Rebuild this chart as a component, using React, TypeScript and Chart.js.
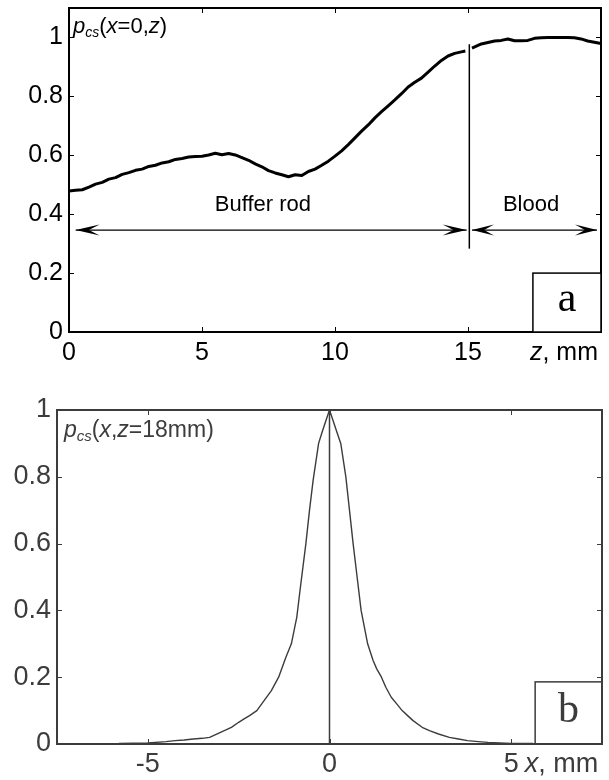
import React, { useEffect, useRef } from "react";
import { Chart, registerables } from "chart.js";
Chart.register(...registerables);

const FONT = "'Liberation Sans', Arial, Helvetica, sans-serif";
const SERIF = "'Liberation Serif', 'Times New Roman', serif";

// ---- Panel a: p_cs(x=0, z) ----
const zValues = [
  0, 0.25, 0.5, 0.75, 1.0, 1.25, 1.5, 1.75, 2.0, 2.25, 2.5, 2.75, 3.0, 3.25, 3.5, 3.75,
  4.0, 4.25, 4.5, 4.75, 5.0, 5.25, 5.5, 5.75, 6.0, 6.25, 6.5, 6.75, 7.0, 7.25, 7.5, 7.75,
  8.0, 8.25, 8.5, 8.75, 9.0, 9.25, 9.5, 9.75, 10.0, 10.25, 10.5, 10.75, 11.0, 11.25, 11.5,
  11.75, 12.0, 12.25, 12.5, 12.75, 13.0, 13.25, 13.5, 13.75, 14.0, 14.25, 14.5, 14.75, 14.9,
  15.0, 15.15, 15.5, 15.75, 16.0, 16.25, 16.5, 16.75, 17.0, 17.25, 17.5, 17.75, 18.0, 18.25,
  18.5, 18.75, 19.0, 19.25, 19.5, 19.75, 20.0,
];
const pcsAxial: (number | null)[] = [
  0.479, 0.481, 0.483, 0.492, 0.502, 0.508, 0.519, 0.524, 0.535, 0.541, 0.549, 0.553, 0.562, 0.566, 0.574, 0.578,
  0.586, 0.589, 0.594, 0.596, 0.597, 0.601, 0.607, 0.602, 0.606, 0.601, 0.592, 0.583, 0.571, 0.561, 0.548, 0.540,
  0.534, 0.527, 0.534, 0.531, 0.545, 0.553, 0.566, 0.580, 0.597, 0.615, 0.636, 0.659, 0.682, 0.703, 0.727,
  0.748, 0.768, 0.788, 0.809, 0.832, 0.848, 0.862, 0.882, 0.903, 0.922, 0.937, 0.946, 0.951, 0.954,
  null, 0.964, 0.978, 0.983, 0.988, 0.990, 0.995, 0.989, 0.989, 0.990, 0.997, 0.999, 1.0, 1.0,
  1.0, 1.0, 0.999, 0.995, 0.988, 0.984, 0.979,
];
const aXTicks = [0, 5, 10, 15];
const aYTicks = [0, 0.2, 0.4, 0.6, 0.8, 1];

// ---- Panel b: p_cs(x, z=18mm) ----
const xValues = [
  -5.8, -5, -4.5, -4.25, -4, -3.75, -3.5, -3.3, -3, -2.85, -2.7, -2.5, -2.35, -2.2, -2, -1.9, -1.8,
  -1.7, -1.6, -1.5, -1.4, -1.3, -1.2, -1.05, -0.9, -0.8, -0.65, -0.55, -0.45, -0.3, -0.2, -0.1, 0,
  0.1, 0.2, 0.31, 0.45, 0.55, 0.65, 0.76, 0.87, 1.05, 1.2, 1.3, 1.43, 1.55, 1.7, 1.85, 2.0, 2.15,
  2.3, 2.55, 2.75, 3.0, 3.3, 3.55, 3.8, 4.1, 4.36, 5.0, 5.6,
];
const pcsLateral = [
  0.002, 0.003, 0.007, 0.01, 0.012, 0.015, 0.017, 0.02, 0.035, 0.042, 0.05, 0.065, 0.075, 0.085, 0.1, 0.115, 0.13,
  0.145, 0.16, 0.18, 0.2, 0.23, 0.26, 0.3, 0.38, 0.47, 0.6, 0.7, 0.79, 0.9, 0.935, 0.968, 1.0,
  0.968, 0.935, 0.9, 0.8, 0.7, 0.6, 0.5, 0.4, 0.3, 0.25, 0.225, 0.2, 0.17, 0.14, 0.12, 0.1, 0.085,
  0.07, 0.05, 0.04, 0.03, 0.02, 0.015, 0.01, 0.007, 0.005, 0.002, 0.002,
];
const bXTicks = [-5, 0, 5];
const bYTicks = [0, 0.2, 0.4, 0.6, 0.8, 1];

type Seg = { t: string; it?: boolean; sz?: number; dy?: number };

function drawRich(ctx: CanvasRenderingContext2D, segs: Seg[], x: number, y: number, size: number, color: string, align = "left", baseline: CanvasTextBaseline = "alphabetic") {
  ctx.save();
  ctx.fillStyle = color;
  ctx.textBaseline = baseline;
  ctx.textAlign = "left";
  const fontOf = (s: Seg) => `${s.it ? "italic " : ""}${s.sz ?? size}px ${FONT}`;
  let total = 0;
  for (const s of segs) {
    ctx.font = fontOf(s);
    total += ctx.measureText(s.t).width;
  }
  let cx = align === "right" ? x - total : align === "center" ? x - total / 2 : x;
  for (const s of segs) {
    ctx.font = fontOf(s);
    ctx.fillText(s.t, cx, y + (s.dy ?? 0));
    cx += ctx.measureText(s.t).width;
  }
  ctx.restore();
}

function arrowHead(ctx: CanvasRenderingContext2D, tx: number, ty: number, dir: number, len: number, half: number) {
  ctx.beginPath();
  ctx.moveTo(tx, ty);
  ctx.lineTo(tx - dir * len, ty - half);
  ctx.lineTo(tx - dir * len * 0.55, ty);
  ctx.lineTo(tx - dir * len, ty + half);
  ctx.closePath();
  ctx.fill();
}

function frameAndTicks(chart: any, color: string, width: number) {
  const { ctx, chartArea: a, scales } = chart;
  ctx.save();
  ctx.strokeStyle = color;
  ctx.lineWidth = width;
  ctx.strokeRect(a.left, a.top, a.right - a.left, a.bottom - a.top);
  ctx.lineWidth = 1;
  const L = 5;
  ctx.beginPath();
  for (const t of scales.x.ticks) {
    const px = Math.round(scales.x.getPixelForValue(t.value)) + 0.5;
    if (px <= a.left + 2 || px >= a.right - 2) continue;
    ctx.moveTo(px, a.bottom);
    ctx.lineTo(px, a.bottom - L);
    ctx.moveTo(px, a.top);
    ctx.lineTo(px, a.top + L);
  }
  for (const t of scales.y.ticks) {
    const py = Math.round(scales.y.getPixelForValue(t.value)) + 0.5;
    if (py <= a.top + 2 || py >= a.bottom - 2) continue;
    ctx.moveTo(a.left, py);
    ctx.lineTo(a.left + L, py);
    ctx.moveTo(a.right, py);
    ctx.lineTo(a.right - L, py);
  }
  ctx.stroke();
  ctx.restore();
}

const decorA = {
  id: "decorA",
  afterDraw(chart: any) {
    const { ctx, scales, chartArea: a } = chart;
    const X = (v: number) => scales.x.getPixelForValue(v);
    const Y = (v: number) => scales.y.getPixelForValue(v);
    frameAndTicks(chart, "#000", 2);
    ctx.save();
    ctx.strokeStyle = "#000";
    ctx.fillStyle = "#000";
    // interface line
    ctx.lineWidth = 1.5;
    ctx.beginPath();
    ctx.moveTo(X(15.05), Y(0.977));
    ctx.lineTo(X(15.05), Y(0.283));
    ctx.stroke();
    // arrows
    const ay = Y(0.346);
    ctx.lineWidth = 1.2;
    ctx.beginPath();
    ctx.moveTo(X(0.25), ay);
    ctx.lineTo(X(14.95), ay);
    ctx.moveTo(X(15.15), ay);
    ctx.lineTo(X(19.85), ay);
    ctx.stroke();
    arrowHead(ctx, X(0.25), ay, -1, 24, 5.5);
    arrowHead(ctx, X(14.95), ay, 1, 24, 5.5);
    arrowHead(ctx, X(15.15), ay, -1, 22, 5.5);
    arrowHead(ctx, X(19.85), ay, 1, 22, 5.5);
    ctx.font = `22px ${FONT}`;
    ctx.textAlign = "center";
    ctx.textBaseline = "middle";
    ctx.fillText("Buffer rod", X(7.29), Y(0.43));
    ctx.fillText("Blood", X(17.37), Y(0.43));
    // panel box
    const bx = X(17.44), by = Y(0.2);
    ctx.fillStyle = "#fff";
    ctx.fillRect(bx, by, a.right - bx, a.bottom - by);
    ctx.lineWidth = 1.5;
    ctx.strokeRect(bx, by, a.right - bx, a.bottom - by);
    ctx.fillStyle = "#000";
    ctx.font = `42px ${SERIF}`;
    ctx.textAlign = "center";
    ctx.textBaseline = "middle";
    ctx.fillText("a", (bx + a.right) / 2, (by + a.bottom) / 2 - 3);
    ctx.restore();
    // label
    drawRich(ctx, [
      { t: "p", it: true },
      { t: "cs", it: true, sz: 14, dy: 4 },
      { t: "(" },
      { t: "x", it: true },
      { t: "=0," },
      { t: "z", it: true },
      { t: ")" },
    ], a.left + 4, a.top + 25, 22, "#000");
    // axis unit
    const ly = scales.x.top + 6 + 15;
    drawRich(ctx, [{ t: "z", it: true }, { t: ", mm" }], a.right - 3, ly, 25, "#000", "right", "middle");
  },
};

const decorB = {
  id: "decorB",
  afterDraw(chart: any) {
    const { ctx, scales, chartArea: a } = chart;
    const X = (v: number) => scales.x.getPixelForValue(v);
    const Y = (v: number) => scales.y.getPixelForValue(v);
    const grey = "#3c3c3c";
    ctx.save();
    ctx.strokeStyle = grey;
    ctx.lineWidth = 1.5;
    ctx.beginPath();
    ctx.moveTo(X(0), Y(0));
    ctx.lineTo(X(0), Y(1));
    ctx.stroke();
    // panel box
    const bx = X(5.66), by = Y(0.186);
    ctx.fillStyle = "#fff";
    ctx.fillRect(bx, by, a.right - bx, a.bottom - by);
    ctx.lineWidth = 1.5;
    ctx.strokeRect(bx, by, a.right - bx, a.bottom - by);
    ctx.fillStyle = grey;
    ctx.font = `42px ${SERIF}`;
    ctx.textAlign = "center";
    ctx.textBaseline = "middle";
    ctx.fillText("b", (bx + a.right) / 2, (by + a.bottom) / 2 - 2);
    ctx.restore();
    frameAndTicks(chart, grey, 2);
    drawRich(ctx, [
      { t: "p", it: true },
      { t: "cs", it: true, sz: 15, dy: 4 },
      { t: "(" },
      { t: "x", it: true },
      { t: "," },
      { t: "z", it: true },
      { t: "=18mm)" },
    ], a.left + 7, a.top + 27, 23, grey);
    const ly = scales.x.top + 4 + 16.2;
    ctx.save();
    ctx.font = `27px ${FONT}`;
    const w5 = ctx.measureText("5").width;
    ctx.restore();
    drawRich(ctx, [{ t: "x", it: true }, { t: ", mm" }], X(5) + w5 / 2 + 6, ly, 27, grey, "left", "middle");
  },
};

function makeConfig(opts: {
  xs: number[]; ys: (number | null)[]; xMin: number; xMax: number; yMax: number;
  xTicks: number[]; yTicks: number[]; color: string; lineW: number; plugin: any;
  padTop: number; padRight: number; yWidth: number; xHeight: number; xPad: number; fontSize: number;
}) {
  const tickFont = { family: FONT, size: opts.fontSize };
  const noPad = (s: any) => { s.paddingTop = 0; s.paddingBottom = 0; s.paddingLeft = 0; s.paddingRight = 0; };
  return {
    type: "line" as const,
    data: {
      datasets: [{
        data: opts.xs.map((x, i) => ({ x, y: opts.ys[i] })),
        borderColor: opts.color,
        borderWidth: opts.lineW,
        pointRadius: 0,
        tension: 0,
        spanGaps: false,
        fill: false,
        borderJoinStyle: "round" as const,
      }],
    },
    options: {
      animation: false as const,
      responsive: false,
      events: [],
      layout: { padding: { top: opts.padTop, right: opts.padRight, left: 0, bottom: 0 } },
      plugins: { legend: { display: false }, tooltip: { enabled: false } },
      scales: {
        x: {
          type: "linear" as const, min: opts.xMin, max: opts.xMax,
          afterBuildTicks: (s: any) => { s.ticks = opts.xTicks.map((v) => ({ value: v })); },
          afterFit: (s: any) => { s.height = opts.xHeight; noPad(s); },
          grid: { display: false, drawTicks: false },
          border: { display: false },
          ticks: { font: tickFont, color: opts.color, padding: opts.xPad, maxRotation: 0, autoSkip: false, callback: (v: any) => String(v) },
        },
        y: {
          type: "linear" as const, min: 0, max: opts.yMax,
          afterBuildTicks: (s: any) => { s.ticks = opts.yTicks.map((v) => ({ value: v })); },
          afterFit: (s: any) => { s.width = opts.yWidth; noPad(s); },
          grid: { display: false, drawTicks: false },
          border: { display: false },
          ticks: { font: tickFont, color: opts.color, padding: 6, autoSkip: false, callback: (v: any) => String(Math.round(v * 10) / 10) },
        },
      },
    },
    plugins: [opts.plugin],
  };
}

export default function App() {
  const refA = useRef<HTMLCanvasElement>(null);
  const refB = useRef<HTMLCanvasElement>(null);
  useEffect(() => {
    const cA = new Chart(refA.current!, makeConfig({
      xs: zValues, ys: pcsAxial, xMin: 0, xMax: 20, yMax: 1.1, xTicks: aXTicks, yTicks: aYTicks,
      color: "#000", lineW: 3, plugin: decorA, padTop: 8, padRight: 8, yWidth: 69, xHeight: 44, xPad: 6, fontSize: 25,
    }) as any);
    const cB = new Chart(refB.current!, makeConfig({
      xs: xValues, ys: pcsLateral, xMin: -7.5, xMax: 7.5, yMax: 1, xTicks: bXTicks, yTicks: bYTicks,
      color: "#3c3c3c", lineW: 1.4, plugin: decorB, padTop: 34, padRight: 7, yWidth: 57, xHeight: 36, xPad: 4, fontSize: 27,
    }) as any);
    return () => { cA.destroy(); cB.destroy(); };
  }, []);
  return (
    <div style={{ position: "absolute", left: 0, top: 0, width: 609, height: 780, background: "#fff" }}>
      <canvas ref={refA} width={609} height={376} style={{ position: "absolute", left: 0, top: 0, display: "block" }} />
      <canvas ref={refB} width={609} height={404} style={{ position: "absolute", left: 0, top: 376, display: "block" }} />
    </div>
  );
}
